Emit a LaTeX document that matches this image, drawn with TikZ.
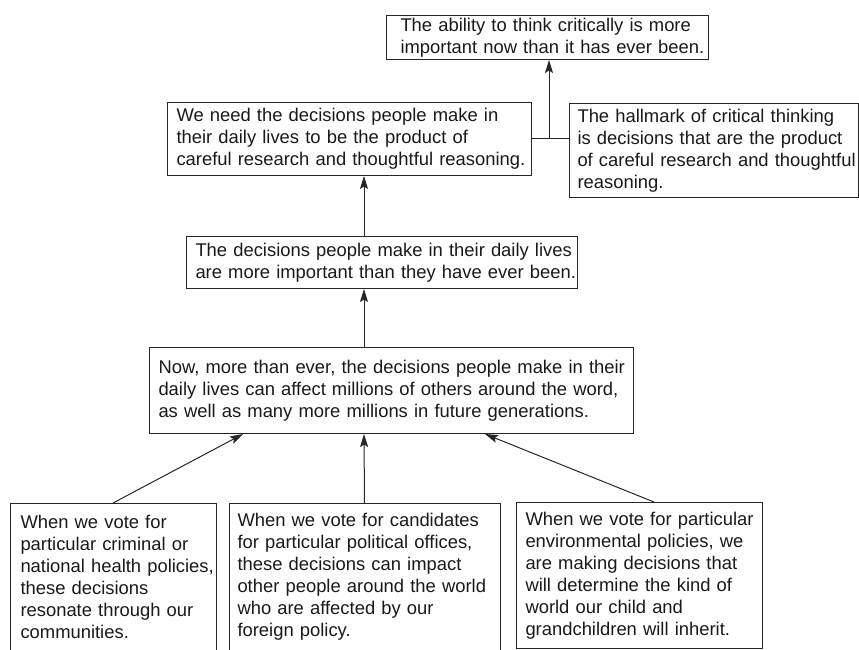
\documentclass[tikz,border=0pt]{standalone}
\usepackage{fontspec}
\setmainfont{Liberation Sans}
\usetikzlibrary{arrows.meta}
\hfuzz=40pt
\begin{document}
\begin{tikzpicture}[x=1pt,y=-1pt,
  box/.style={draw=black!85, line width=1pt, anchor=north west, align=left,
    inner ysep=0pt, font=\fontsize{18.4}{22}\selectfont, text=black!90},
  openbox/.style={box, draw=none},
  edge/.style={draw=black!85, line width=1pt},
  arr/.style={edge, -{Stealth[length=13pt,width=8pt,inset=2.5pt]}}
]
\useasboundingbox (0,0) rectangle (859,649);
\clip (0,0) rectangle (859,649);

\node[box, inner xsep=14pt, text width=294pt, minimum height=44pt] (T) at (386,15)
  {\mbox{The ability to think critically is more}\\\mbox{important now than it has ever been.}};
\node[box, inner xsep=9pt, text width=346pt, minimum height=73pt] (N) at (167,102)
  {\mbox{We need the decisions people make in}\\\mbox{their daily lives to be the product of}\\\mbox{careful research and thoughtful reasoning.}};
\node[box, inner xsep=8pt, text width=273pt, minimum height=94pt] (H) at (569,103)
  {\mbox{The hallmark of critical thinking}\\\mbox{is decisions that are the product}\\\mbox{of careful research and thoughtful}\\\mbox{reasoning.}};
\node[box, inner xsep=9pt, text width=373pt, minimum height=52pt] (D) at (186,236)
  {\mbox{The decisions people make in their daily lives}\\\mbox{are more important than they have ever been.}};
\node[box, inner xsep=9pt, text width=466pt, minimum height=86pt] (M) at (149,347)
  {\mbox{Now, more than ever, the decisions people make in their}\\\mbox{daily lives can affect millions of others around the word,}\\\mbox{as well as many more millions in future generations.}};
\node[openbox, inner xsep=10pt, text width=185pt, minimum height=146pt] (A) at (10,503)
  {\mbox{When we vote for}\\\mbox{particular criminal or}\\\mbox{national health policies,}\\\mbox{these decisions}\\\mbox{resonate through our}\\\mbox{communities.}};
\node[openbox, inner xsep=8pt, text width=254pt, minimum height=146pt] (B) at (229,503)
  {\mbox{When we vote for candidates}\\\mbox{for particular political offices,}\\\mbox{these decisions can impact}\\\mbox{other people around the world}\\\mbox{who are affected by our}\\\mbox{foreign policy.}};
\node[box, inner xsep=9pt, text width=228pt, minimum height=146pt] (C) at (516,502)
  {\mbox{When we vote for particular}\\\mbox{environmental policies, we}\\\mbox{are making decisions that}\\\mbox{will determine the kind of}\\\mbox{world our child and}\\\mbox{grandchildren will inherit.}};

% open-bottom borders of the two cut boxes
\draw[edge] ([yshift=-20pt]A.south west) -- (A.north west) -- (A.north east) -- ([yshift=-20pt]A.south east);
\draw[edge] ([yshift=-20pt]B.south west) -- (B.north west) -- (B.north east) -- ([yshift=-20pt]B.south east);

% helper coordinates
\coordinate (J) at (549,138);
\coordinate (ax) at (364,0);
\coordinate (pL) at (243,0);
\coordinate (pR) at (485,0);
\coordinate (pC) at (654,0);

% connectors
\draw[edge] (N.east |- J) -- (H.west |- J);
\draw[arr] (J) -- (J |- T.south);
\draw[arr] (D.north -| ax) -- (N.south -| ax);
\draw[arr] (M.north -| ax) -- (D.south -| ax);
\draw[arr] (A.north) -- (M.south -| pL);
\draw[arr] (B.north) -- (M.south -| ax);
\draw[arr] (C.north -| pC) -- (M.south -| pR);
\end{tikzpicture}
\end{document}
